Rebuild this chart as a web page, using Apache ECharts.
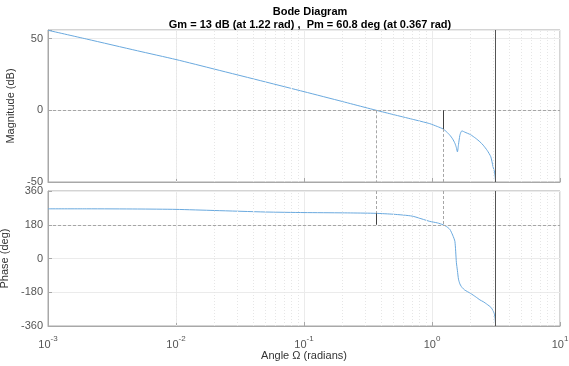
<!DOCTYPE html>
<html>
<head>
<meta charset="utf-8">
<script src="https://cdn.jsdelivr.net/npm/echarts@6/dist/echarts.min.js"></script>
<style>
	html, body {margin: 0; padding: 0; background: #fff;}
	#chart {width: 569px; height: 366px;}
</style>
</head>
<body>
<div id="chart"></div>
<script>
// frequency response
const omega = [0.001, 0.002, 0.005, 0.01, 0.02, 0.05, 0.1, 0.2, 0.3, 0.367, 0.5, 0.7, 0.96, 1.1, 1.22,
	1.3, 1.38, 1.45, 1.51, 1.55, 1.58, 1.61, 1.65, 1.69, 1.72, 1.8, 2.0, 2.2, 2.37, 2.51, 2.7, 2.88, 3.0, 3.08, 3.11, 3.14];
const magnitude = [55.8, 49.7, 41.5, 35.4, 28.7, 19.8, 13.0, 6.1, 2.0, 0, -3.0, -6.2, -9.3, -11.3, -13,
	-15, -17.4, -20, -23, -26, -29, -24, -17.5, -14.8, -14.4, -15.2, -17, -19.6, -22, -24.3, -28, -32.4, -39.4, -43, -46, -50];
const phase = [265, 265, 264, 262, 256, 248, 245, 243.5, 242, 240.8, 236, 226, 198, 190, 180,
	170, 155, 125, 91, -20, -65, -110, -135, -148, -155, -168, -186, -205, -221, -230, -245, -260, -278, -300, -318, -358];

const magTicks = [-50, 0, 50];
const phaseTicks = [-360, -180, 0, 180, 360];
const decades = [0.001, 0.01, 0.1, 1, 10];

// stability margins
const gm = 13, wgm = 1.22;
const pm = 60.8, wpm = 0.367;
const nyquist = Math.PI;

const font = 'Arial, "Liberation Sans", Helvetica, sans-serif';
const gridColor = '#ebebeb';
const minorColor = '#e6e6e6';
const boxColor = '#a8a8a8';
const markColor = '#404040';
const dashColor = '#a6a6a6';

let minor = [];
decades.slice(0, -1).forEach(d => [2, 3, 4, 5, 6, 7, 8, 9].forEach(m => minor.push(+(d * m).toPrecision(3))));

const minorLines = minor.map(x => ({xAxis: x, lineStyle: {color: minorColor, type: [1, 2], width: 1}}));
const solid = {color: markColor, type: 'solid', width: 1};
const dashed = {color: dashColor, type: [3, 2], width: 1};

function xAxis(gridIndex, labels)
{
	return {
		gridIndex,
		type: 'log',
		logBase: 10,
		min: decades[0],
		max: decades[decades.length - 1],
		splitNumber: 4,
		axisLine: {show: true, onZero: false, lineStyle: {color: boxColor}},
		axisTick: {show: true, inside: true, length: 4, lineStyle: {color: boxColor}},
		splitLine: {show: true, lineStyle: {color: gridColor, width: 1}},
		axisLabel: {
			show: labels,
			margin: 9,
			formatter: v => '{b|10}{e|' + Math.round(Math.log10(v)) + '}',
			rich: {
				b: {fontSize: 11, fontFamily: font, color: '#555', verticalAlign: 'bottom'},
				e: {fontSize: 8, fontFamily: font, color: '#555', verticalAlign: 'bottom', padding: [0, 0, 7, 0]}
			}
		},
		name: labels ? 'Angle \u03A9 (radians)' : '',
		nameLocation: 'middle',
		nameGap: 22,
		nameTextStyle: {fontSize: 11, fontFamily: font, color: '#333'}
	};
}

function yAxis(gridIndex, min, max, interval, ticks, name, gap)
{
	return {
		gridIndex,
		type: 'value',
		min,
		max,
		interval,
		axisLine: {show: true, onZero: false, lineStyle: {color: boxColor}},
		axisTick: {show: true, inside: true, length: 4, lineStyle: {color: boxColor}},
		splitLine: {show: true, lineStyle: {color: gridColor, width: 1}},
		axisLabel: {
			fontSize: 11,
			fontFamily: font,
			color: '#555',
			margin: 5,
			formatter: v => ticks.includes(v) ? String(v) : ''
		},
		name,
		nameLocation: 'middle',
		nameRotate: 90,
		nameGap: gap,
		nameTextStyle: {fontSize: 11, fontFamily: font, color: '#333'}
	};
}

const chart = echarts.init(document.getElementById('chart'), null, {renderer: 'canvas'});

chart.setOption({
	animation: false,
	backgroundColor: '#fff',
	title: [
		{text: 'Bode Diagram', left: 305, top: 1, textAlign: 'center',
			textStyle: {fontSize: 11, fontWeight: 'bold', fontFamily: font, color: '#000'}},
		{text: `Gm = ${gm} dB (at ${wgm} rad) ,  Pm = ${pm} deg (at ${wpm} rad)`, left: 305, top: 14, textAlign: 'center',
			textStyle: {fontSize: 11, fontWeight: 'bold', fontFamily: font, color: '#000'}}
	],
	grid: [
		{left: 48, top: 30, width: 512, height: 152, show: true, borderColor: boxColor, borderWidth: 1,
			containLabel: false, outerBoundsMode: 'none'},
		{left: 48, top: 191, width: 512, height: 135, show: true, borderColor: boxColor, borderWidth: 1,
			containLabel: false, outerBoundsMode: 'none'}
	],
	xAxis: [xAxis(0, false), xAxis(1, true)],
	yAxis: [
		yAxis(0, -50, 56, 50, magTicks, 'Magnitude (dB)', 20),
		yAxis(1, -360, 360, 180, phaseTicks, 'Phase (deg)', 29)
	],
	series: [
		{
			type: 'line',
			xAxisIndex: 0,
			yAxisIndex: 0,
			data: omega.map((w, i) => [w, magnitude[i]]),
			showSymbol: false,
			smooth: 0.2,
			clip: true,
			lineStyle: {color: '#6aa9de', width: 1},
			markLine: {
				silent: true,
				symbol: 'none',
				label: {show: false},
				data: [
					...minorLines,
					{yAxis: 0, lineStyle: dashed},
					[{coord: [wpm, 0]}, {coord: [wpm, -50], lineStyle: dashed}],
					[{coord: [wgm, -gm]}, {coord: [wgm, -50], lineStyle: dashed}],
					[{coord: [wgm, 0]}, {coord: [wgm, -gm], lineStyle: solid}],
					{xAxis: nyquist, lineStyle: {color: '#555', type: 'solid', width: 1}}
				]
			}
		},
		{
			type: 'line',
			xAxisIndex: 1,
			yAxisIndex: 1,
			data: omega.map((w, i) => [w, phase[i]]),
			showSymbol: false,
			smooth: 0.2,
			clip: true,
			lineStyle: {color: '#6aa9de', width: 1},
			markLine: {
				silent: true,
				symbol: 'none',
				label: {show: false},
				data: [
					...minorLines,
					{yAxis: 180, lineStyle: dashed},
					[{coord: [wpm, 360]}, {coord: [wpm, 180 + pm], lineStyle: dashed}],
					[{coord: [wpm, 180 + pm]}, {coord: [wpm, 180], lineStyle: solid}],
					[{coord: [wgm, 360]}, {coord: [wgm, 180], lineStyle: dashed}],
					{xAxis: nyquist, lineStyle: {color: '#555', type: 'solid', width: 1}}
				]
			}
		}
	]
});
</script>
</body>
</html>
